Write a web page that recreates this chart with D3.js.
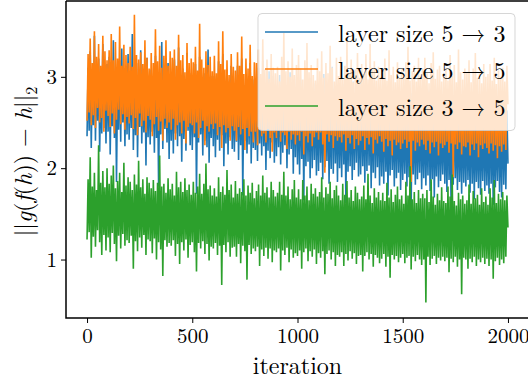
<!DOCTYPE html>
<html>
<head>
<meta charset="utf-8">
<script src="https://cdn.jsdelivr.net/npm/d3@7"></script>
<style>
  body { margin: 0; background: #fff; }
  svg { display: block; }
  svg text { font-family: "Latin Modern Roman", "Latin Modern Math", "Liberation Serif", serif; }
</style>
</head>
<body>
<svg id="chart" width="528" height="380"></svg>
<script>
// Iteration step between stored samples
const STEP = 5;

const seriesNames = ["layer size 5 \u2192 3", "layer size 5 \u2192 5", "layer size 3 \u2192 5"];
const colors = ["#1f77b4", "#ff7f0e", "#2ca02c"];

const xTicks = [0, 500, 1000, 1500, 2000];
const yTicks = [1, 2, 3];

// layer size 5 -> 3
const blue = [
  2.35, 3.10, 2.41, 3.28, 2.22, 2.98, 2.47, 3.45, 2.30, 3.05, 2.52, 3.20, 2.18, 2.93, 2.38, 3.36, 2.44, 3.02, 2.27, 3.14,
  2.40, 3.22, 2.15, 2.97, 2.46, 3.40, 2.33, 3.06, 1.85, 2.95, 2.42, 3.18, 2.29, 3.31, 2.50, 2.99, 2.24, 3.12, 2.37, 3.25,
  2.31, 3.03, 2.44, 3.47, 2.20, 2.96, 2.36, 3.15, 2.12, 3.00, 2.45, 3.29, 2.27, 2.92, 2.39, 3.11, 2.03, 3.21, 2.34, 2.98,
  2.26, 3.08, 2.40, 2.94, 2.17, 3.23, 2.33, 3.01, 1.80, 2.90, 2.37, 3.38, 2.21, 3.05, 2.43, 2.93, 2.28, 3.15, 2.10, 3.00,
  2.30, 2.99, 2.16, 3.19, 2.38, 2.92, 2.24, 3.32, 2.35, 2.95, 2.07, 3.09, 2.32, 2.88, 2.19, 3.26, 2.41, 2.97, 2.25, 3.04,
  2.20, 2.97, 2.34, 3.14, 1.72, 2.90, 2.28, 3.22, 2.37, 2.94, 2.14, 3.04, 2.30, 2.86, 2.23, 3.30, 2.06, 2.93, 2.33, 3.01,
  2.24, 3.01, 2.12, 2.89, 2.31, 3.17, 2.19, 2.92, 2.36, 3.25, 2.02, 2.87, 2.27, 3.08, 2.15, 2.95, 2.34, 3.12, 2.21, 2.90,
  2.18, 2.93, 2.29, 3.12, 2.09, 2.88, 2.25, 3.20, 1.70, 2.91, 2.30, 3.03, 2.16, 2.86, 2.26, 3.15, 2.05, 2.94, 2.22, 2.97,
  2.20, 2.89, 2.08, 3.10, 2.27, 2.84, 2.14, 3.18, 2.24, 2.87, 1.98, 2.95, 2.19, 3.06, 2.11, 2.83, 2.28, 3.01, 2.06, 2.92,
  2.13, 2.86, 2.23, 3.02, 2.04, 2.89, 2.17, 3.14, 2.25, 2.82, 2.00, 2.92, 2.15, 3.05, 2.21, 2.85, 1.94, 2.97, 2.12, 2.88,
  2.04, 2.83, 1.93, 2.97, 2.10, 2.86, 1.65, 3.08, 2.02, 2.80, 2.07, 2.91, 1.89, 2.99, 2.00, 2.84, 2.09, 2.93, 1.92, 2.81,
  1.97, 2.90, 2.06, 2.78, 1.88, 3.03, 2.01, 2.85, 2.08, 2.94, 1.83, 2.81, 1.99, 3.11, 1.94, 2.87, 2.05, 2.79, 1.85, 2.92,
  2.00, 2.79, 1.90, 2.92, 2.04, 2.83, 1.62, 3.00, 1.96, 2.77, 2.02, 2.85, 1.87, 2.95, 1.98, 2.80, 2.06, 2.88, 1.91, 2.76,
  1.93, 2.84, 2.02, 2.76, 1.84, 2.97, 1.97, 2.81, 2.03, 2.88, 1.78, 2.74, 1.95, 2.93, 1.89, 2.80, 2.01, 2.86, 1.81, 2.78,
  1.91, 2.72, 1.83, 2.86, 1.96, 2.68, 1.70, 2.81, 1.92, 2.75, 1.98, 2.63, 1.80, 2.86, 1.89, 2.70, 1.95, 2.76, 1.76, 2.69,
  1.87, 2.61, 1.94, 2.79, 1.80, 2.73, 1.90, 2.65, 1.55, 2.82, 1.93, 2.67, 1.82, 2.74, 1.88, 2.58, 1.95, 2.80, 1.77, 2.65,
  1.89, 2.70, 1.81, 2.59, 1.92, 2.85, 1.75, 2.64, 1.88, 2.75, 1.68, 2.62, 1.91, 2.69, 1.79, 2.78, 1.86, 2.57, 1.93, 2.66,
  1.83, 2.62, 1.74, 2.73, 1.87, 2.58, 1.55, 2.67, 1.82, 2.80, 1.89, 2.55, 1.76, 2.70, 1.85, 2.60, 1.72, 2.74, 1.84, 2.59,
  1.80, 2.63, 1.87, 2.56, 1.73, 2.77, 1.83, 2.60, 1.66, 2.69, 1.85, 2.52, 1.78, 2.74, 1.71, 2.58, 1.86, 2.66, 1.75, 2.61,
  1.81, 2.55, 1.72, 2.72, 1.83, 2.58, 1.60, 2.64, 1.79, 2.51, 1.86, 2.70, 1.74, 2.57, 1.68, 2.80, 1.82, 2.59, 1.77, 2.63,
  2.05
];

// layer size 5 -> 5
const orange = [
  2.52, 3.25, 2.61, 3.42, 2.47, 3.15, 2.58, 3.50, 2.44, 3.22, 2.66, 3.36, 2.50, 3.12, 2.55, 3.45, 2.40, 3.28, 2.63, 3.18,
  2.57, 3.29, 2.45, 3.47, 2.60, 3.18, 2.38, 3.38, 2.53, 3.20, 2.64, 3.55, 2.48, 3.12, 2.59, 3.35, 2.42, 3.24, 2.56, 3.15,
  2.49, 3.33, 2.58, 3.11, 2.43, 3.68, 2.55, 3.24, 2.36, 3.19, 2.60, 3.27, 2.46, 3.14, 2.52, 3.40, 2.39, 3.21, 2.57, 3.09,
  2.53, 3.26, 2.35, 3.15, 2.48, 3.52, 2.56, 3.17, 2.41, 3.34, 2.51, 3.10, 2.30, 3.23, 2.54, 3.40, 2.44, 3.12, 2.50, 3.28,
  2.42, 3.21, 2.54, 3.30, 2.31, 3.12, 2.47, 3.46, 2.50, 3.18, 2.38, 3.24, 2.52, 3.05, 2.27, 3.37, 2.45, 3.15, 2.49, 3.20,
  2.47, 3.16, 2.38, 3.33, 2.50, 3.07, 2.33, 3.58, 2.44, 3.19, 2.52, 3.10, 2.25, 3.28, 2.46, 3.13, 2.40, 3.22, 2.48, 3.06,
  2.43, 3.23, 2.49, 3.04, 2.36, 3.39, 2.45, 3.14, 2.22, 3.50, 2.47, 3.08, 2.39, 3.18, 2.44, 3.02, 2.30, 3.25, 2.46, 3.11,
  2.41, 3.07, 2.30, 3.27, 2.45, 3.12, 2.37, 3.44, 2.43, 3.03, 2.20, 3.20, 2.44, 3.09, 2.35, 3.35, 2.40, 3.01, 2.28, 3.16,
  2.40, 3.15, 2.25, 3.30, 2.42, 3.03, 2.35, 3.41, 2.38, 3.08, 2.28, 3.19, 2.43, 2.98, 2.33, 3.25, 2.18, 3.10, 2.39, 3.04,
  2.33, 3.11, 2.41, 2.95, 2.29, 3.22, 2.39, 3.48, 2.36, 3.06, 2.21, 3.17, 2.40, 3.00, 2.31, 3.31, 2.37, 3.02, 2.26, 3.13,
  2.36, 3.24, 2.30, 3.09, 2.40, 2.97, 2.15, 3.18, 2.35, 3.37, 2.28, 3.05, 2.38, 3.13, 2.24, 3.02, 2.34, 2.96, 2.39, 3.20,
  2.31, 3.06, 2.39, 3.28, 2.26, 2.99, 1.95, 3.15, 2.37, 3.04, 2.29, 3.34, 2.36, 3.10, 2.22, 2.95, 2.35, 3.21, 2.30, 3.01,
  2.34, 3.22, 2.28, 2.97, 2.37, 3.12, 2.19, 3.40, 2.33, 3.03, 2.27, 3.19, 2.36, 2.94, 2.21, 3.08, 2.32, 3.26, 2.25, 2.99,
  2.30, 3.14, 2.35, 3.03, 2.20, 3.25, 2.33, 2.97, 2.26, 3.36, 2.34, 3.08, 2.16, 3.17, 2.31, 2.96, 2.27, 3.11, 2.35, 3.00,
  2.29, 3.07, 2.18, 3.20, 2.32, 2.96, 2.24, 3.29, 2.30, 3.02, 2.14, 3.11, 2.31, 2.94, 2.25, 3.16, 2.28, 2.99, 2.21, 3.08,
  2.27, 3.02, 2.31, 3.16, 2.22, 3.33, 2.29, 2.96, 1.85, 3.06, 2.30, 3.12, 2.19, 2.95, 2.28, 3.21, 2.24, 3.00, 2.31, 3.09,
  2.26, 3.21, 2.20, 3.04, 2.30, 2.93, 2.16, 3.15, 2.28, 3.27, 2.23, 2.98, 2.29, 3.08, 2.14, 3.12, 2.27, 2.95, 2.22, 3.03,
  2.25, 3.10, 2.29, 2.96, 2.17, 3.24, 2.27, 3.01, 1.90, 3.13, 2.26, 2.94, 2.21, 3.30, 2.28, 3.05, 2.15, 2.97, 2.24, 3.09,
  2.23, 3.05, 2.28, 3.18, 2.14, 2.94, 2.26, 3.09, 2.20, 3.26, 2.27, 2.99, 2.12, 3.04, 2.25, 2.93, 2.21, 3.14, 2.27, 3.00,
  2.22, 3.03, 2.16, 3.14, 2.27, 2.96, 2.19, 3.21, 2.25, 2.92, 2.11, 3.07, 2.24, 3.00, 2.18, 3.10, 2.26, 2.95, 2.20, 3.12,
  2.70
];

// layer size 3 -> 5
const green = [
  1.22, 1.88, 1.30, 2.12, 1.02, 1.80, 1.25, 1.95, 1.14, 1.76, 1.32, 2.25, 1.19, 1.84, 1.05, 1.97, 1.27, 1.79, 1.10, 2.00,
  1.24, 1.83, 1.08, 1.92, 1.29, 2.03, 1.17, 1.78, 0.98, 1.86, 1.26, 1.95, 1.12, 1.74, 1.28, 2.06, 1.15, 1.81, 1.21, 1.90,
  1.18, 1.85, 1.26, 1.76, 0.90, 1.93, 1.20, 1.82, 1.09, 2.08, 1.24, 1.79, 1.13, 1.88, 1.27, 1.72, 1.05, 1.90, 1.22, 1.84,
  1.20, 1.78, 1.07, 1.87, 1.23, 1.75, 1.00, 1.84, 1.19, 2.14, 1.11, 1.80, 0.82, 1.83, 1.21, 1.73, 1.14, 1.89, 1.18, 1.77,
  1.15, 1.83, 1.21, 1.70, 1.04, 1.96, 1.17, 1.79, 0.95, 1.85, 1.19, 1.74, 1.10, 1.89, 1.22, 1.76, 1.02, 1.82, 1.16, 1.71,
  1.19, 1.85, 1.08, 1.73, 0.87, 1.80, 1.18, 1.94, 1.12, 1.72, 1.20, 1.83, 1.06, 2.05, 1.17, 1.77, 0.99, 1.81, 1.14, 1.70,
  1.12, 1.78, 1.18, 1.69, 1.05, 1.90, 1.15, 1.74, 0.72, 1.80, 1.16, 1.71, 1.08, 1.98, 1.19, 1.76, 1.03, 1.82, 1.13, 1.68,
  1.14, 1.86, 1.03, 1.72, 1.17, 1.78, 0.96, 1.74, 1.15, 1.88, 1.09, 1.70, 0.78, 1.81, 1.16, 1.73, 1.06, 1.84, 1.12, 1.67,
  1.09, 1.75, 1.14, 1.82, 0.93, 1.70, 1.11, 1.92, 1.04, 1.73, 1.13, 1.79, 1.01, 1.68, 1.12, 1.85, 0.97, 1.76, 1.10, 1.69,
  1.08, 1.73, 1.12, 1.85, 0.88, 1.71, 1.10, 1.96, 1.05, 1.70, 1.13, 1.80, 0.97, 1.66, 1.11, 1.77, 1.02, 1.87, 1.07, 1.68,
  1.04, 1.77, 1.10, 1.66, 0.90, 1.87, 1.08, 1.70, 1.12, 1.80, 0.98, 1.65, 1.09, 1.83, 1.03, 1.72, 1.11, 1.78, 0.95, 1.69,
  1.07, 1.74, 1.02, 1.90, 1.09, 1.68, 0.84, 1.79, 1.06, 1.72, 1.10, 1.85, 1.00, 1.67, 1.08, 1.76, 0.93, 1.81, 1.05, 1.70,
  1.03, 1.65, 1.08, 1.83, 0.93, 1.71, 1.06, 1.86, 0.99, 1.68, 1.09, 1.76, 1.01, 1.64, 1.07, 1.80, 0.95, 1.73, 1.04, 1.66,
  1.05, 1.69, 0.87, 1.81, 1.04, 1.66, 1.08, 1.94, 1.00, 1.70, 1.06, 1.62, 0.92, 1.78, 1.05, 1.68, 1.02, 1.74, 0.96, 1.65,
  1.01, 1.73, 1.06, 1.64, 0.92, 1.84, 1.03, 1.68, 0.80, 1.77, 1.05, 1.63, 1.00, 1.71, 1.04, 1.80, 0.97, 1.66, 1.02, 1.70,
  1.06, 1.61, 0.96, 1.85, 1.02, 1.70, 1.04, 2.02, 0.89, 1.66, 1.03, 1.74, 0.98, 1.62, 1.05, 1.76, 1.00, 1.67, 0.94, 1.72,
  1.00, 1.67, 0.53, 1.76, 1.03, 1.63, 0.94, 1.88, 1.01, 1.69, 1.04, 1.60, 0.95, 1.72, 1.02, 1.65, 0.99, 1.79, 1.03, 1.64,
  0.98, 1.62, 1.02, 1.80, 0.86, 1.69, 1.01, 1.93, 0.97, 1.64, 1.03, 1.59, 0.92, 1.73, 1.00, 1.66, 0.62, 1.70, 1.02, 1.61,
  1.00, 1.65, 0.90, 1.82, 1.01, 1.61, 0.97, 1.75, 1.03, 1.67, 0.93, 1.71, 1.00, 1.60, 0.97, 1.78, 1.02, 1.63, 0.95, 1.69,
  1.01, 1.60, 0.93, 1.78, 1.00, 1.68, 0.79, 1.87, 0.98, 1.62, 1.02, 1.72, 0.94, 1.66, 1.00, 1.74, 0.96, 1.65, 1.03, 1.70,
  1.35
];

const series = [blue, orange, green];

const FONT = "'Latin Modern Roman', 'Latin Modern Math', 'Liberation Serif', serif";
const svg = d3.select("#chart");
const m = {top: 1, right: 0, bottom: 62, left: 66};
const W = 528, H = 380;

const x = d3.scaleLinear().domain([-100, 2100]).range([m.left, W - m.right + 1]);
const y = d3.scaleLinear().domain([0.36, 3.83]).range([H - m.bottom, m.top]);

// clip to plot area
svg.append("defs").append("clipPath").attr("id", "plotClip")
  .append("rect")
  .attr("x", m.left).attr("y", m.top)
  .attr("width", W - m.left).attr("height", H - m.bottom - m.top);

const line = d3.line()
  .x((d, i) => x(i * STEP))
  .y(d => y(d));

const plot = svg.append("g").attr("clip-path", "url(#plotClip)");
series.forEach((s, k) => {
  plot.append("path")
    .datum(s)
    .attr("fill", "none")
    .attr("stroke", colors[k])
    .attr("stroke-width", 1.6)
    .attr("stroke-linejoin", "miter")
    .attr("d", line);
});

// axes
const xAxis = d3.axisBottom(x).tickValues(xTicks).tickSize(5).tickPadding(5).tickFormat(d3.format("d"));
const yAxis = d3.axisLeft(y).tickValues(yTicks).tickSize(5).tickPadding(4).tickFormat(d3.format("d"));

const gx = svg.append("g").attr("transform", `translate(0,${H - m.bottom})`).call(xAxis);
const gy = svg.append("g").attr("transform", `translate(${m.left},0)`).call(yAxis);
for (const g of [gx, gy]) {
  g.attr("font-family", FONT).attr("font-size", 21);
  g.select(".domain").remove();
  g.selectAll("line").attr("stroke", "#000").attr("stroke-width", 1);
  g.selectAll("text")
    .attr("fill", "#000")
    .attr("font-family", FONT)
    .style("font-size", "21px");
}

// spines (left, bottom, top)
svg.append("path")
  .attr("d", `M${m.left},${m.top} H${W} M${m.left},${m.top} V${H - m.bottom} H${W}`)
  .attr("fill", "none")
  .attr("stroke", "#000")
  .attr("stroke-width", 1.5);

// axis labels
svg.append("text")
  .attr("x", x(1000)).attr("y", 374)
  .attr("text-anchor", "middle")
  .attr("font-family", FONT)
  .style("font-size", "24px")
  .text("iteration");

const yl = svg.append("text")
  .attr("transform", `translate(32,${(m.top + H - m.bottom) / 2 + 2}) rotate(-90)`)
  .attr("text-anchor", "middle")
  .attr("font-family", FONT)
  .style("font-size", "24px");
yl.append("tspan").text("||");
yl.append("tspan").attr("font-style", "italic").text("g");
yl.append("tspan").text("(");
yl.append("tspan").attr("font-style", "italic").text("f");
yl.append("tspan").text("(");
yl.append("tspan").attr("font-style", "italic").text("h");
yl.append("tspan").text(")) \u2212 ");
yl.append("tspan").attr("font-style", "italic").text("h");
yl.append("tspan").text("||");
yl.append("tspan").attr("font-size", "16px").attr("dy", 5).text("2");

// legend
const lg = svg.append("g");
lg.append("rect")
  .attr("x", 258).attr("y", 13.5)
  .attr("width", 257).attr("height", 117)
  .attr("rx", 4)
  .attr("fill", "#fff").attr("fill-opacity", 0.8)
  .attr("stroke", "#ccc").attr("stroke-opacity", 0.8)
  .attr("stroke-width", 1);
seriesNames.forEach((name, k) => {
  const yy = 32 + k * 37;
  lg.append("line")
    .attr("x1", 265).attr("x2", 318)
    .attr("y1", yy).attr("y2", yy)
    .attr("stroke", colors[k]).attr("stroke-width", 1.5);
  lg.append("text")
    .attr("x", 338).attr("y", yy + 10)
    .attr("font-family", FONT)
    .style("font-size", "24px")
    .text(name);
});
</script>
</body>
</html>
